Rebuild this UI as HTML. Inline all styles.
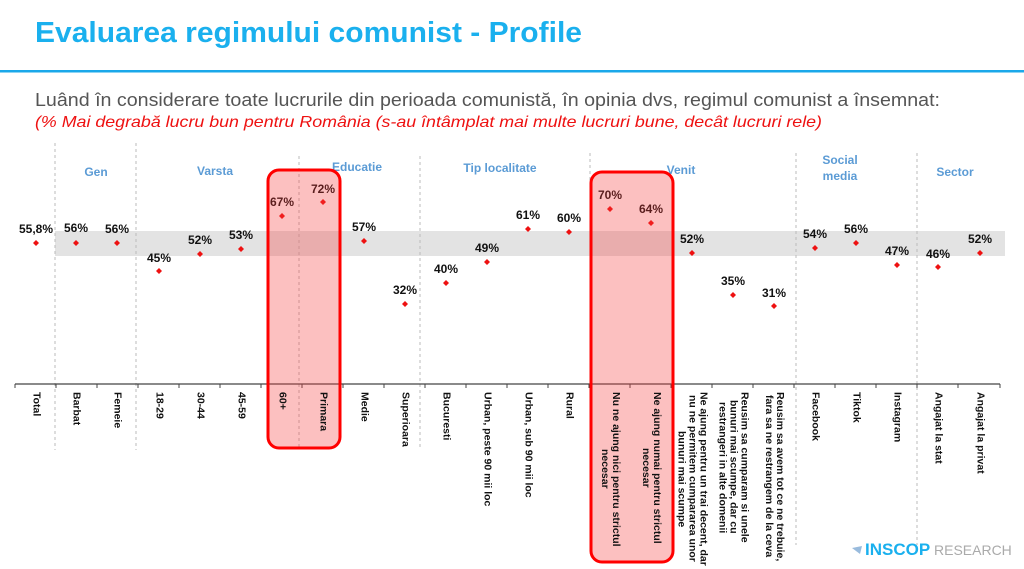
<!DOCTYPE html>
<html><head><meta charset="utf-8"><style>
body{margin:0;width:1024px;height:569px;overflow:hidden;background:#fff;position:relative;font-family:"Liberation Sans",Arial,sans-serif}
.lab{position:absolute;top:392px;writing-mode:vertical-rl;text-align:center;font-weight:bold;font-size:10.5px;line-height:11px;color:#111;white-space:nowrap;transform:translateX(-50%)}
</style></head><body>
<svg width="1024" height="569" style="position:absolute;left:0;top:0" font-family="Liberation Sans, Arial, sans-serif">
<text x="35" y="42" font-size="29" font-weight="bold" fill="#1ab0ee" textLength="547" lengthAdjust="spacingAndGlyphs">Evaluarea regimului comunist - Profile</text>
<rect x="0" y="70" width="1024" height="2.5" fill="#1aa8ea"/>
<text x="35" y="106" font-size="18" fill="#555" textLength="905" lengthAdjust="spacingAndGlyphs">Luând în considerare toate lucrurile din perioada comunistă, în opinia dvs, regimul comunist a însemnat:</text>
<text x="35" y="127" font-size="16" font-style="italic" fill="#ee1111" textLength="787" lengthAdjust="spacingAndGlyphs">(% Mai degrabă lucru bun pentru România (s-au întâmplat mai multe lucruri bune, decât lucruri rele)</text>
<rect x="55" y="231" width="950" height="25" fill="#e3e3e3"/>
<g stroke="#bbb" stroke-dasharray="3,3" stroke-width="1">
<line x1="55" y1="143" x2="55" y2="450"/><line x1="136" y1="143" x2="136" y2="450"/>
<line x1="299" y1="156" x2="299" y2="450"/><line x1="420" y1="156" x2="420" y2="450"/>
<line x1="590" y1="153" x2="590" y2="450"/><line x1="796" y1="153" x2="796" y2="545"/>
<line x1="917" y1="153" x2="917" y2="545"/>
</g>
<line x1="15" y1="384" x2="1000" y2="384" stroke="#444" stroke-width="1.2"/>
<g stroke="#444" stroke-width="1">
<line x1="15" y1="384" x2="15" y2="388"/>
<line x1="56" y1="384" x2="56" y2="388"/><line x1="97" y1="384" x2="97" y2="388"/><line x1="138" y1="384" x2="138" y2="388"/><line x1="179" y1="384" x2="179" y2="388"/><line x1="220" y1="384" x2="220" y2="388"/><line x1="261" y1="384" x2="261" y2="388"/><line x1="302" y1="384" x2="302" y2="388"/><line x1="343" y1="384" x2="343" y2="388"/><line x1="384" y1="384" x2="384" y2="388"/><line x1="425" y1="384" x2="425" y2="388"/><line x1="466" y1="384" x2="466" y2="388"/><line x1="507" y1="384" x2="507" y2="388"/><line x1="548" y1="384" x2="548" y2="388"/><line x1="589" y1="384" x2="589" y2="388"/><line x1="630" y1="384" x2="630" y2="388"/><line x1="671" y1="384" x2="671" y2="388"/><line x1="712" y1="384" x2="712" y2="388"/><line x1="753" y1="384" x2="753" y2="388"/><line x1="794" y1="384" x2="794" y2="388"/><line x1="835" y1="384" x2="835" y2="388"/><line x1="876" y1="384" x2="876" y2="388"/><line x1="917" y1="384" x2="917" y2="388"/><line x1="958" y1="384" x2="958" y2="388"/><line x1="1000" y1="384" x2="1000" y2="388"/>
</g>
<g font-size="12" font-weight="bold" fill="#5b9bd5" text-anchor="middle">
<text x="96" y="176">Gen</text><text x="215" y="175">Varsta</text><text x="357" y="171">Educatie</text>
<text x="500" y="172">Tip localitate</text><text x="681" y="174">Venit</text>
<text x="840" y="164">Social</text><text x="840" y="180">media</text><text x="955" y="176">Sector</text>
</g>
<g font-size="12" font-weight="bold" fill="#111" text-anchor="middle">
<text x="36" y="233">55,8%</text><text x="76" y="232">56%</text><text x="117" y="233">56%</text>
<text x="159" y="262">45%</text><text x="200" y="244">52%</text><text x="241" y="239">53%</text>
<text x="282" y="206">67%</text><text x="323" y="193">72%</text><text x="364" y="231">57%</text>
<text x="405" y="294">32%</text><text x="446" y="273">40%</text><text x="487" y="252">49%</text>
<text x="528" y="219">61%</text><text x="569" y="222">60%</text><text x="610" y="199">70%</text>
<text x="651" y="213">64%</text><text x="692" y="243">52%</text><text x="733" y="285">35%</text>
<text x="774" y="297">31%</text><text x="815" y="238">54%</text><text x="856" y="233">56%</text>
<text x="897" y="255">47%</text><text x="938" y="258">46%</text><text x="980" y="243">52%</text>
</g>
<g fill="#ee1111">
<g transform="translate(36,243)"><path d="M0-3L3 0L0 3L-3 0Z"/></g>
<g transform="translate(76,243)"><path d="M0-3L3 0L0 3L-3 0Z"/></g>
<g transform="translate(117,243)"><path d="M0-3L3 0L0 3L-3 0Z"/></g>
<g transform="translate(159,271)"><path d="M0-3L3 0L0 3L-3 0Z"/></g>
<g transform="translate(200,254)"><path d="M0-3L3 0L0 3L-3 0Z"/></g>
<g transform="translate(241,249)"><path d="M0-3L3 0L0 3L-3 0Z"/></g>
<g transform="translate(282,216)"><path d="M0-3L3 0L0 3L-3 0Z"/></g>
<g transform="translate(323,202)"><path d="M0-3L3 0L0 3L-3 0Z"/></g>
<g transform="translate(364,241)"><path d="M0-3L3 0L0 3L-3 0Z"/></g>
<g transform="translate(405,304)"><path d="M0-3L3 0L0 3L-3 0Z"/></g>
<g transform="translate(446,283)"><path d="M0-3L3 0L0 3L-3 0Z"/></g>
<g transform="translate(487,262)"><path d="M0-3L3 0L0 3L-3 0Z"/></g>
<g transform="translate(528,229)"><path d="M0-3L3 0L0 3L-3 0Z"/></g>
<g transform="translate(569,232)"><path d="M0-3L3 0L0 3L-3 0Z"/></g>
<g transform="translate(610,209)"><path d="M0-3L3 0L0 3L-3 0Z"/></g>
<g transform="translate(651,223)"><path d="M0-3L3 0L0 3L-3 0Z"/></g>
<g transform="translate(692,253)"><path d="M0-3L3 0L0 3L-3 0Z"/></g>
<g transform="translate(733,295)"><path d="M0-3L3 0L0 3L-3 0Z"/></g>
<g transform="translate(774,306)"><path d="M0-3L3 0L0 3L-3 0Z"/></g>
<g transform="translate(815,248)"><path d="M0-3L3 0L0 3L-3 0Z"/></g>
<g transform="translate(856,243)"><path d="M0-3L3 0L0 3L-3 0Z"/></g>
<g transform="translate(897,265)"><path d="M0-3L3 0L0 3L-3 0Z"/></g>
<g transform="translate(938,267)"><path d="M0-3L3 0L0 3L-3 0Z"/></g>
<g transform="translate(980,253)"><path d="M0-3L3 0L0 3L-3 0Z"/></g>
</g>
<rect x="268" y="170" width="72" height="278" rx="11" fill="rgba(245,60,60,0.32)" stroke="#ff0000" stroke-width="3"/>
<rect x="591" y="172" width="82" height="390" rx="11" fill="rgba(245,60,60,0.32)" stroke="#ff0000" stroke-width="3"/>
<text x="865" y="555" font-size="17" font-weight="bold" fill="#1ab0ee">INSCOP</text>
<text x="934" y="555" font-size="14" fill="#aaa">RESEARCH</text>
<path d="M852 548 L862 546 L860 554 Z" fill="#9bd" />
</svg>
<div class="lab" style="left:36px">Total</div>
<div class="lab" style="left:76px">Barbat</div>
<div class="lab" style="left:117px">Femeie</div>
<div class="lab" style="left:159px">18-29</div>
<div class="lab" style="left:200px">30-44</div>
<div class="lab" style="left:241px">45-59</div>
<div class="lab" style="left:282px">60+</div>
<div class="lab" style="left:323px">Primara</div>
<div class="lab" style="left:364px">Medie</div>
<div class="lab" style="left:405px">Superioara</div>
<div class="lab" style="left:446px">Bucuresti</div>
<div class="lab" style="left:487px">Urban, peste 90 mii loc</div>
<div class="lab" style="left:528px">Urban, sub 90 mii loc</div>
<div class="lab" style="left:569px">Rural</div>
<div class="lab" style="left:610px">Nu ne ajung nici pentru strictul<br>necesar</div>
<div class="lab" style="left:651px">Ne ajung numai pentru strictul<br>necesar</div>
<div class="lab" style="left:692px">Ne ajung pentru un trai decent, dar<br>nu ne permitem cumpararea unor<br>bunuri mai scumpe</div>
<div class="lab" style="left:733px">Reusim sa cumparam si unele<br>bunuri mai scumpe, dar cu<br>restrangeri in alte domenii</div>
<div class="lab" style="left:774px">Reusim sa avem tot ce ne trebuie,<br>fara sa ne restrangem de la ceva</div>
<div class="lab" style="left:815px">Facebook</div>
<div class="lab" style="left:856px">Tiktok</div>
<div class="lab" style="left:897px">Instagram</div>
<div class="lab" style="left:938px">Angajat la stat</div>
<div class="lab" style="left:980px">Angajat la privat</div>
</body></html>
